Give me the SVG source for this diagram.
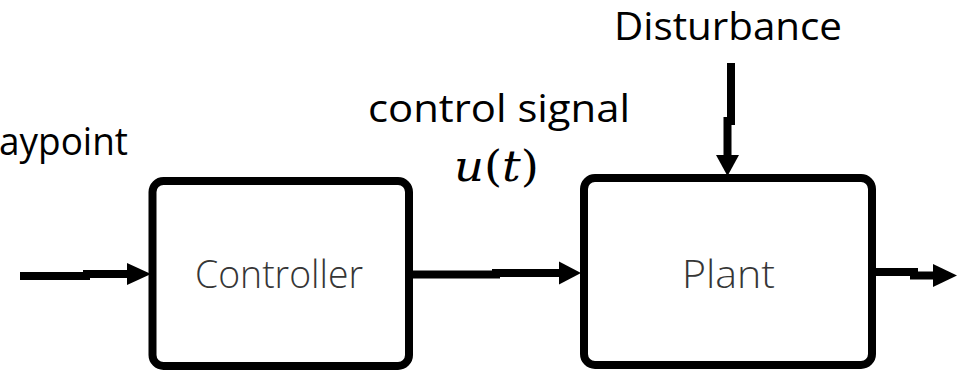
<svg xmlns="http://www.w3.org/2000/svg" width="973" height="373" viewBox="0 0 973 373">
  <style>
    .box { fill: #ffffff; stroke: #000000; stroke-width: 8; }
    .wire { fill: none; stroke: #000000; stroke-width: 8; stroke-linecap: butt; }
    .head { fill: #000000; stroke: none; }
    .label { font-family: "Open Sans", "Noto Sans", "Liberation Sans", sans-serif; font-size: 38px; fill: #000000; }
    .block { font-family: "Open Sans", "Noto Sans", "Liberation Sans", sans-serif; font-weight: 300; font-size: 39px; fill: #363636; text-anchor: middle; }
    .math { font-family: "DejaVu Serif", "Liberation Serif", serif; font-size: 42px; fill: #000000; }
  </style>

  <rect width="973" height="373" fill="#ffffff"/>

  <!-- signal labels -->
  <g id="labels">
    <text class="label" x="-1" y="155" textLength="129" lengthAdjust="spacingAndGlyphs">aypoint</text>
    <text class="label" x="368" y="122" textLength="262" lengthAdjust="spacingAndGlyphs">control signal</text>
    <text class="math" x="454" y="181" textLength="85" lengthAdjust="spacingAndGlyphs"><tspan font-style="italic">u</tspan>(<tspan font-style="italic">t</tspan>)</text>
    <text class="label" x="614" y="40" textLength="228" lengthAdjust="spacingAndGlyphs">Disturbance</text>
  </g>

  <!-- blocks -->
  <g id="controller">
    <rect class="box" x="152.5" y="181" width="256.5" height="185" rx="11"/>
    <text class="block" x="279" y="288" textLength="168" lengthAdjust="spacingAndGlyphs">Controller</text>
  </g>
  <g id="plant">
    <rect class="box" x="584" y="178" width="288" height="187" rx="11"/>
    <text class="block" x="728.5" y="288" textLength="93" lengthAdjust="spacingAndGlyphs">Plant</text>
  </g>

  <!-- connectors -->
  <g id="connectors">
    <!-- waypoint into controller -->
    <path class="wire" d="M20 276 H90 M83 274 H128"/>
    <polygon class="head" points="127,263 151,274 127,285"/>
    <!-- controller to plant: u(t) -->
    <path class="wire" d="M413 274.5 H500 M492 273 H560"/>
    <polygon class="head" points="559,261.5 581,273 559,284.5"/>
    <!-- plant output -->
    <path class="wire" d="M875 272 H918 M910 275.5 H934"/>
    <polygon class="head" points="933,264 957,275.5 933,287"/>
    <!-- disturbance into plant -->
    <path class="wire" d="M731 63 V125 M727.5 117 V156"/>
    <polygon class="head" points="716,155 739,155 727.5,176"/>
  </g>
</svg>
